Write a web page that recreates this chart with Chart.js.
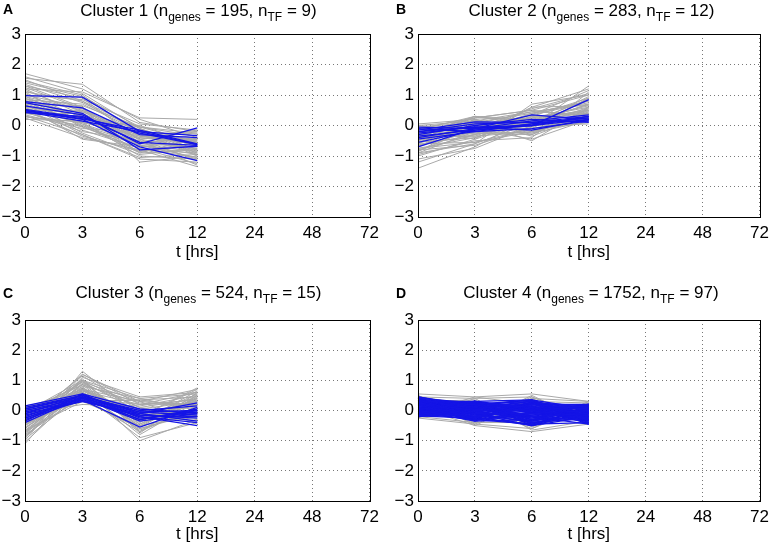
<!DOCTYPE html>
<html>
<head>
<meta charset="utf-8">
<script src="https://cdn.jsdelivr.net/npm/chart.js@4"></script>
<style>
  body { margin:0; width:775px; height:547px; background:#fff; position:relative; overflow:hidden;
         font-family:'Liberation Sans', Arial, Helvetica, sans-serif; }
  canvas { position:absolute; }
  .ttl { position:absolute; font-size:17px; line-height:20px; text-align:center; color:#000; white-space:nowrap; }
  .ttl .sb { font-size:12px; position:relative; top:5px; }
  .lt { position:absolute; font-size:14px; font-weight:bold; color:#000; }
</style>
</head>
<body>
<script>
// time points (categorical x axis)
const timeLabels = ['0','3','6','12','24','48','72'];

const clusterNames = ['Cluster 1','Cluster 2','Cluster 3','Cluster 4'];
const nGenes = [195, 283, 524, 1752];
const nTF = [9, 12, 15, 97];
const panelLetters = ['A','B','C','D'];

// profiles at t = 0, 3, 6, 12 hrs (gray = genes, blue = TFs)
const grayA = [
  [1.7,1.2,0.2,-0.4],[1.55,1.35,0.1,-0.2],[1.45,1.0,-0.3,-0.9],[1.3,0.9,-0.5,-1.3],
  [1.2,1.1,0.25,0.2],[1.1,0.8,-0.1,-0.7],[1.0,0.6,-1.2,-1.0],[0.95,0.5,-0.8,-1.35],
  [0.9,0.3,-0.4,-0.5],[0.85,0.7,-0.2,-0.9],[0.8,0.0,-0.9,-0.8],[0.75,0.4,-0.6,-0.3],
  [0.7,-0.3,-1.1,-1.2],[0.65,0.2,0.0,-0.6],[0.6,-0.45,-0.7,-0.5],[0.55,0.1,-1.0,-1.1],
  [0.5,0.5,-0.3,-0.2],[0.45,-0.2,-0.5,-0.8],[0.4,0.3,-0.9,-0.4],[0.35,-0.1,-0.2,-1.0],
  [0.3,0.0,-0.6,-0.7],[0.25,-0.4,-0.8,-0.9],[0.2,0.15,-0.4,-0.6],[1.35,0.75,-0.15,-0.55],
  [1.25,0.55,-0.45,-0.75],[1.15,0.45,-0.35,-0.45],[1.05,0.25,-0.65,-0.85],[0.9,-0.05,-0.75,-1.05],
  [0.7,0.65,-0.05,-0.35],[0.6,0.35,-0.25,-0.65],
  [1.4,0.95,-0.05,-0.25],[1.3,0.6,-0.55,-1.1],[1.2,0.35,-0.25,-0.95],[1.1,0.05,-0.85,-0.55],
  [1.0,0.85,0.05,-0.15],[0.95,0.15,-0.45,-1.15],[0.85,-0.25,-0.95,-0.75],[0.8,0.55,-0.65,-0.95],
  [0.72,0.1,-0.35,-0.25],[0.68,-0.15,-0.75,-1.25],[0.62,0.45,-0.15,-0.85],[0.58,0.05,-0.55,-0.45],
  [0.52,-0.35,-0.85,-0.65],[0.48,0.25,-0.05,-0.55],[0.42,-0.05,-0.65,-1.05],[0.38,0.4,-0.45,-0.15],
  [0.32,-0.3,-1.05,-0.95],[0.28,0.1,-0.3,-0.45],[1.5,0.8,-0.35,-0.6],[1.6,1.05,-0.1,-0.8]
];
const blueA = [
  [0.98,0.93,-0.2,-0.62],[0.78,0.58,-0.3,-0.4],[0.64,0.35,-0.6,-0.08],[0.53,0.26,-0.25,-0.63],
  [0.48,0.2,-0.7,-1.15],[0.45,0.14,-0.2,-0.33],[0.42,0.3,-0.55,-0.65],[0.5,0.22,-0.15,-0.6],
  [0.75,0.4,-0.8,-0.68]
];
const grayB = [
  [-1.4,-0.7,0.3,0.9],[-1.1,-0.75,0.0,1.3],[-0.95,-0.5,-0.4,1.1],[-0.9,-0.6,0.7,1.0],
  [-0.85,0.1,-0.5,0.6],[-0.8,-0.3,0.6,1.2],[-0.75,-0.4,0.2,0.4],[-0.7,0.2,-0.3,0.5],
  [-0.65,-0.2,0.4,0.8],[-0.6,-0.55,-0.2,0.3],[-0.5,0.3,0.1,0.7],[-0.45,-0.1,-0.45,0.2],
  [-0.4,0.25,0.5,1.0],[-0.35,-0.35,0.3,0.45],[-0.3,0.0,-0.1,0.9],[-0.25,0.15,0.45,0.35],
  [-0.2,-0.25,-0.3,0.55],[-0.15,0.3,0.2,0.15],[-0.1,-0.45,0.6,0.65],[-0.05,0.1,0.0,0.05],
  [0.05,0.2,-0.2,0.4],[0.0,-0.15,0.35,0.75],[-0.55,0.05,0.25,0.5],[-0.3,0.3,0.0,0.3],
  [-0.8,-0.65,-0.05,0.6],
  [-1.0,-0.45,0.15,0.85],[-0.9,-0.2,-0.25,0.45],[-0.85,-0.05,0.35,1.15],[-0.75,-0.55,-0.1,0.25],
  [-0.7,0.05,0.45,0.7],[-0.65,-0.3,0.05,0.95],[-0.6,0.15,-0.35,0.35],[-0.55,-0.4,0.25,0.6],
  [-0.5,-0.1,0.55,1.05],[-0.45,0.2,-0.15,0.1],[-0.4,-0.25,0.1,0.5],[-0.35,0.1,0.4,0.8],
  [-0.3,-0.35,-0.2,0.2],[-0.25,0.25,0.2,0.65],[-0.2,-0.15,0.3,0.4],[-0.15,0.05,-0.05,0.9],
  [-0.1,0.25,0.5,0.3],[-0.05,-0.3,0.15,0.55],[0.0,0.15,-0.25,0.15],[-1.2,-0.6,0.1,0.7]
];
const blueB = [
  [-0.05,-0.1,0.35,0.2],[-0.15,0.12,0.1,0.3],[-0.25,-0.05,0.0,0.85],[-0.35,-0.15,0.05,0.25],
  [-0.45,-0.2,-0.1,0.15],[-0.7,-0.1,0.0,0.3],[-0.2,-0.05,-0.15,0.2],[-0.3,0.0,0.2,0.1],
  [-0.1,-0.2,0.05,0.25],[-0.4,-0.1,0.15,0.35],[-0.55,-0.15,0.0,0.2],[-0.2,0.05,0.1,0.15]
];
const grayC = [
  [-1.1,1.0,-0.7,0.5],[-1.0,1.3,-0.2,0.75],[-0.9,1.2,0.3,0.2],[-0.85,0.8,-1.0,-0.3],
  [-0.8,1.1,0.45,0.6],[-0.75,0.6,-0.5,0.4],[-0.7,0.9,0.1,-0.2],[-0.65,0.7,-0.8,0.3],
  [-0.6,1.0,0.4,0.0],[-0.55,0.5,-0.3,0.55],[-0.5,0.85,-0.6,-0.1],[-0.45,0.4,0.2,0.35],
  [-0.4,0.75,-0.4,0.65],[-0.35,1.15,0.0,0.1],[-0.3,0.55,-0.9,-0.4],[-0.25,0.3,0.35,0.45],
  [-0.2,0.65,-0.1,-0.3],[-0.15,0.95,-0.45,0.25],[-0.1,0.2,0.15,0.5],[-0.05,0.6,-0.25,-0.2],
  [0.0,0.85,0.25,0.15],[0.05,0.45,-0.35,0.4],[0.1,0.7,-0.15,-0.1],[0.15,0.5,0.05,0.3],
  [-0.95,0.55,-0.65,0.05],[-0.7,0.4,-0.2,0.7],[-0.5,0.95,0.3,-0.45],
  [-1.05,0.7,-0.3,0.2],[-0.9,0.9,-0.55,0.45],[-0.8,0.45,0.05,-0.15],[-0.75,1.05,-0.75,0.6],
  [-0.65,0.3,0.35,0.1],[-0.6,0.75,-0.15,-0.35],[-0.5,0.55,-0.45,0.5],[-0.45,1.2,0.2,0.25],
  [-0.4,0.35,-0.6,-0.05],[-0.35,0.8,0.4,0.55],[-0.3,0.6,-0.35,0.35],[-0.25,0.95,-0.05,-0.25],
  [-0.2,0.4,-0.7,0.15],[-0.15,0.7,0.3,0.7],[-0.1,0.5,-0.2,0.0],[-0.05,1.0,0.1,0.4],
  [0.0,0.3,-0.5,-0.15],[0.05,0.65,0.2,0.6],[0.1,0.4,-0.3,0.2],[-0.85,0.65,-0.1,0.3]
];
const blueC = [
  [0.15,0.55,0.05,-0.1],[0.1,0.5,-0.1,0.25],[0.05,0.45,-0.2,-0.5],[0.0,0.4,-0.3,0.0],
  [-0.05,0.35,-0.55,0.1],[-0.1,0.5,-0.15,-0.2],[-0.15,0.3,-0.1,-0.35],[-0.2,0.45,-0.3,0.05],
  [-0.25,0.4,-0.05,-0.15],[-0.3,0.35,-0.2,-0.4],[-0.35,0.55,-0.25,-0.05],[-0.4,0.45,0.0,0.15],
  [-0.1,0.3,-0.15,-0.25],[0.05,0.5,-0.05,0.0],[-0.25,0.4,-0.35,-0.1]
];
const grayD = [
  [0.55,0.45,0.55,0.3],[0.5,-0.5,-0.7,-0.45],[0.45,0.4,0.45,-0.3],[-0.25,-0.45,-0.6,0.25],
  [0.3,0.35,-0.55,0.2],[-0.2,-0.4,0.5,-0.4],[0.5,-0.3,0.4,0.3],[-0.25,0.4,-0.65,-0.35],
  [0.4,-0.45,0.3,0.25],[0.0,0.3,-0.45,-0.2],[0.2,-0.2,0.35,-0.1],[-0.15,0.1,-0.3,0.1],
  [0.35,-0.35,0.45,-0.25],[-0.2,0.3,-0.5,0.3],[0.45,0.2,-0.6,0.15],[0.1,-0.5,0.4,-0.4],
  [-0.1,0.45,0.2,-0.3],[0.25,-0.4,-0.4,0.25]
];
const blueD = [
  [0.45,0.1,-0.2,-0.1],[0.4,0.25,0.1,-0.3],[0.35,-0.2,0.2,0.05],[0.3,0.3,-0.5,-0.2],
  [0.25,0.0,0.0,0.15],[0.2,-0.35,-0.3,0.2],[0.15,0.2,0.35,-0.45],[0.1,-0.1,-0.1,0.0],
  [0.05,0.15,-0.4,-0.15],[0.0,-0.25,0.25,0.1],[-0.05,0.05,-0.2,-0.35],[-0.1,0.25,0.05,-0.05],
  [-0.15,-0.15,-0.35,0.1],[-0.2,0.1,0.15,-0.25],[0.3,-0.05,-0.25,0.2],[0.2,0.2,0.3,-0.1],
  [0.1,-0.3,-0.45,-0.4],[0.0,0.3,0.1,0.15],[-0.1,-0.05,0.2,-0.2],[0.15,0.1,-0.15,0.05],
  [0.4,0.0,0.0,-0.3],[-0.15,0.2,-0.3,0.0],[0.25,-0.25,0.25,-0.15],[0.05,0.25,-0.05,0.2],
  [-0.05,-0.2,-0.5,-0.05],[0.35,0.15,0.15,0.1],[0.2,-0.1,-0.2,-0.45],[-0.2,0.0,0.05,0.15],
  [0.1,0.3,-0.4,-0.25],[0.0,-0.35,0.3,0.0],
  [0.42,-0.15,0.25,0.15],[0.38,0.2,-0.35,-0.05],[0.32,0.05,0.3,-0.35],[0.28,-0.3,-0.1,0.2],
  [0.22,0.28,-0.45,0.05],[0.18,-0.15,0.05,-0.2],[0.12,0.05,0.25,-0.4],[0.08,0.22,-0.25,0.1],
  [0.02,-0.3,-0.05,-0.3],[-0.02,0.15,0.35,0.05],[-0.08,-0.1,-0.4,-0.1],[-0.12,0.3,0.0,0.2],
  [-0.18,-0.25,0.1,-0.15],[0.45,0.15,-0.3,-0.25],[0.3,-0.1,0.15,-0.45],[0.15,0.3,-0.1,0.15],
  [0.0,0.0,-0.35,-0.05],[-0.15,0.1,0.3,-0.3],[0.35,-0.3,-0.15,0.0],[0.2,0.05,0.2,0.2],
  [0.05,-0.2,0.0,-0.2],[-0.05,0.2,-0.3,0.1],[0.25,0.25,0.05,-0.35],[0.4,-0.25,-0.45,0.05],
  [-0.2,-0.05,0.25,-0.1],[0.1,0.1,-0.2,0.15],[0.3,0.0,0.1,-0.15],[-0.1,-0.3,-0.15,0.0],
  [0.2,0.3,0.35,-0.25],[0.05,-0.1,-0.5,0.1]
];

const grays = [grayA, grayB, grayC, grayD];
const blues = [blueA, blueB, blueC, blueD];

// canvas placement for each panel (plot box: A/C left 25..372, B/D left 418..765)
const panels = [
  {left:0,   top:0,   w:385, h:263, padTop:34, padRight:13, xh:46},
  {left:393, top:0,   w:382, h:263, padTop:34, padRight:10, xh:46},
  {left:0,   top:280, w:385, h:265, padTop:40, padRight:13, xh:44},
  {left:393, top:280, w:382, h:265, padTop:40, padRight:11, xh:44}
];

const FONT = "'Liberation Sans', Arial, Helvetica, sans-serif";

const boxPlugin = {
  id: 'box',
  afterDraw(chart){
    const a = chart.chartArea, ctx = chart.ctx;
    ctx.save();
    ctx.strokeStyle = '#000';
    ctx.lineWidth = 1;
    ctx.strokeRect(Math.round(a.left)+0.5, Math.round(a.top)+0.5,
                   Math.round(a.right-a.left), Math.round(a.bottom-a.top));
    ctx.restore();
  }
};

panels.forEach(function(p, i){
  const cv = document.createElement('canvas');
  cv.style.left = p.left + 'px';
  cv.style.top = p.top + 'px';
  cv.style.width = p.w + 'px';
  cv.style.height = p.h + 'px';
  cv.width = p.w; cv.height = p.h;
  document.body.appendChild(cv);

  // title with subscripts
  const t = document.createElement('div');
  t.className = 'ttl';
  t.style.left = (p.left + 25) + 'px';
  t.style.width = (p.w - 25 - p.padRight) + 'px';
  t.style.top = (p.top + (i < 2 ? 1 : 3)) + 'px';
  t.innerHTML = clusterNames[i] + ' (n<span class="sb">genes</span> = ' + nGenes[i] +
                ', n<span class="sb">TF</span> = ' + nTF[i] + ')';
  document.body.appendChild(t);

  const l = document.createElement('div');
  l.className = 'lt';
  l.style.left = (p.left + 3) + 'px';
  l.style.top = (p.top + (i < 2 ? 1 : 5)) + 'px';
  l.textContent = panelLetters[i];
  document.body.appendChild(l);

  const ds = [];
  grays[i].forEach(function(g){
    ds.push({data:g, borderColor:'#a9a9a9', borderWidth:1, pointRadius:0, tension:0, order:2});
  });
  blues[i].forEach(function(b){
    ds.push({data:b, borderColor:'#1414e6', borderWidth:1.3, pointRadius:0, tension:0, order:1});
  });

  new Chart(cv, {
    type:'line',
    data:{ labels:timeLabels, datasets:ds },
    options:{
      responsive:false, animation:false,
      layout:{ padding:{ top:p.padTop, right:p.padRight, left:0, bottom:0 } },
      plugins:{ legend:{display:false}, tooltip:{enabled:false} },
      scales:{
        x:{
          grid:{ color:'#777', drawTicks:false },
          border:{ display:false, dash:[1,3] },
          ticks:{ color:'#000', padding:6, maxRotation:0, autoSkip:false, font:{family:FONT, size:17} },
          title:{ display:true, text:'t [hrs]', color:'#000', padding:0, font:{family:FONT, size:17} },
          afterFit(s){ s.height = p.xh; }
        },
        y:{
          min:-3, max:3,
          grid:{ color:'#777', drawTicks:false },
          border:{ display:false, dash:[1,3] },
          ticks:{ stepSize:1, color:'#000', padding:4, font:{family:FONT, size:17},
                  callback:function(v){ return String(v).replace('-', '\u2212'); } },
          afterFit(s){ s.width = 25; }
        }
      }
    },
    plugins:[boxPlugin]
  });
});
</script>
</body>
</html>
